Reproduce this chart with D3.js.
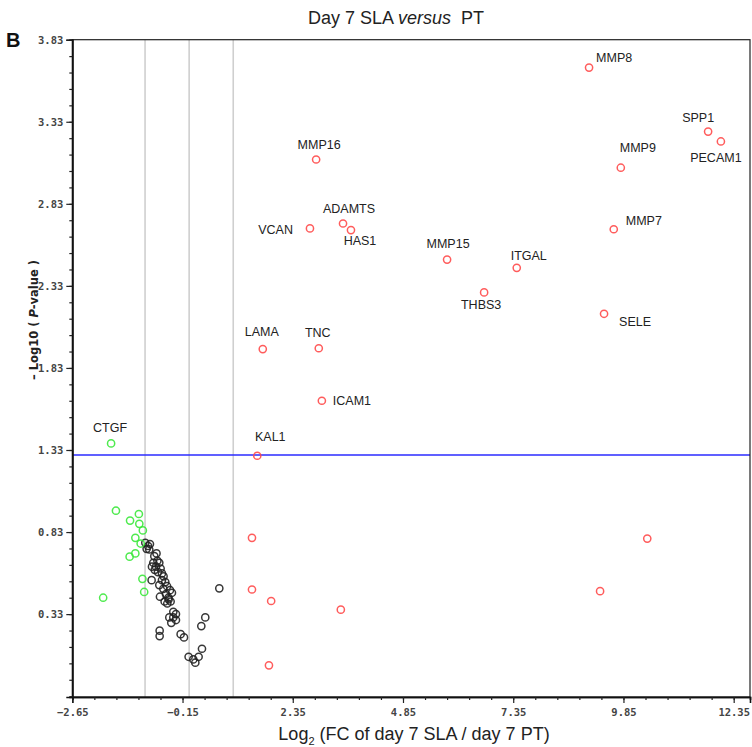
<!DOCTYPE html>
<html><head><meta charset="utf-8">
<script src="https://cdn.jsdelivr.net/npm/d3@7/dist/d3.min.js"></script>
<style>body{margin:0;background:#fff}svg{display:block}</style>
</head><body><svg id="chart" width="752" height="747"></svg>
<script>
// ---- data ----
const labeledGenes = ["MMP8","SPP1","PECAM1","MMP9","MMP16","ADAMTS","VCAN","HAS1","MMP7","MMP15","ITGAL","THBS3","SELE","LAMA","TNC","ICAM1","KAL1","CTGF"];
const labeledX = [9.07,11.77,12.06,9.79,2.88,3.49,2.74,3.67,9.63,5.85,7.43,6.69,9.41,1.67,2.94,3.01,1.545,-1.77];
const labeledY = [3.66,3.27,3.21,3.05,3.10,2.71,2.68,2.67,2.675,2.49,2.44,2.29,2.16,1.945,1.95,1.63,1.295,1.37];
const labeledGroup = ["up","up","up","up","up","up","up","up","up","up","up","up","up","up","up","up","up","down"];

const upX = [1.425,1.425,1.86,3.44,1.81,10.39,9.32];
const upY = [0.795,0.48,0.41,0.357,0.018,0.79,0.47];

const downX = [-1.66,-1.14,-1.34,-1.13,-1.05,-1.22,-1.10,-1.22,-1.35,-1.06,-1.02,-1.95];
const downY = [0.96,0.94,0.90,0.88,0.84,0.795,0.76,0.70,0.68,0.545,0.465,0.43];

const nsX = [-0.994,-0.889,-0.964,-0.904,-0.79,-0.72,-0.813,-0.677,-0.843,-0.752,-0.647,-0.707,-0.617,-0.851,-0.617,-0.541,-0.677,-0.586,-0.435,-0.39,-0.526,-0.662,-0.465,-0.556,-0.42,-0.495,-0.359,-0.299,-0.45,-0.359,-0.299,-0.405,-0.669,-0.669,-0.193,-0.117,0.366,0.276,0.684,0.291,0.215,-0.012,0.094,0.14,-0.74,-0.58,-0.50,-0.47,-0.93,-0.78];
const nsY = [0.765,0.757,0.728,0.724,0.683,0.655,0.643,0.643,0.619,0.619,0.608,0.586,0.578,0.537,0.537,0.525,0.507,0.484,0.476,0.46,0.452,0.436,0.42,0.407,0.407,0.395,0.344,0.33,0.31,0.31,0.294,0.277,0.229,0.196,0.208,0.188,0.31,0.257,0.487,0.119,0.07,0.07,0.054,0.034,0.70,0.56,0.50,0.43,0.745,0.60];

const xMajorTicks = [-2.65,-0.15,2.35,4.85,7.35,9.85,12.35];
const yMajorTicks = [0.33,0.83,1.33,1.83,2.33,2.83,3.33,3.83];
const fcLines = [-1,0,1];
const pThreshold = 1.30;

// ---- layout (label placement relative to point) ----
const labelPlace = {
  MMP8:[7,-6,"start"], SPP1:[-10,-10,"middle"], PECAM1:[-5,21,"middle"], MMP9:[-1,-16,"start"],
  MMP16:[3,-11,"middle"], ADAMTS:[6,-11,"middle"], VCAN:[-17,6,"end"], HAS1:[9,15,"middle"],
  MMP7:[12,-4,"start"], MMP15:[1,-12,"middle"], ITGAL:[12,-8,"middle"], THBS3:[-3,17,"middle"],
  SELE:[15,12,"start"], LAMA:[-1,-13,"middle"], TNC:[-1,-11,"middle"], ICAM1:[11,4,"start"],
  KAL1:[13,-15,"middle"], CTGF:[-1,-11,"middle"]
};

const svg = d3.select("#chart");
const L = 72.3, R = 750, T = 39.7, B = 697;
const x = d3.scaleLinear().domain([-2.65, 12.72]).range([L, R]);
const y = d3.scaleLinear().domain([-0.175, 3.83]).range([B, T]);

const colors = {up:"#ff4a4a", down:"#3be83b", ns:"#222"};

// grey vertical lines
svg.append("g").selectAll("line").data(fcLines).join("line")
  .attr("x1", d=>x(d)).attr("x2", d=>x(d)).attr("y1", T).attr("y2", B)
  .attr("stroke", "#cfcfcf").attr("stroke-width", 1.6);

// blue threshold
svg.append("line").attr("x1", L).attr("x2", R).attr("y1", y(pThreshold)).attr("y2", y(pThreshold))
  .attr("stroke", "#2b2bff").attr("stroke-width", 1.5);

// frame
svg.append("rect").attr("x", L).attr("y", T).attr("width", R-L).attr("height", B-T)
  .attr("fill", "none").attr("stroke", "#222").attr("stroke-width", 1.2);

// axes
const tickFont = "'DejaVu Sans Mono', monospace";
const xMinor = d3.range(-2.65, 12.70, 0.5);
const yMinor = d3.range(-0.17, 3.835, 0.1);

const xAxis = svg.append("g").attr("transform", `translate(0,${B})`)
  .call(d3.axisBottom(x).tickValues(xMajorTicks).tickSize(6).tickPadding(6)
    .tickFormat(d => d3.format(".2f")(d).replace("-", "\u2212")));
const xAxisMinor = svg.append("g").attr("transform", `translate(0,${B})`)
  .call(d3.axisBottom(x).tickValues(xMinor).tickSize(3).tickFormat(""));
const yAxis = svg.append("g").attr("transform", `translate(${L},0)`)
  .call(d3.axisLeft(y).tickValues(yMajorTicks).tickSize(6).tickPadding(3)
    .tickFormat(d3.format(".2f")));
const yAxisMinor = svg.append("g").attr("transform", `translate(${L},0)`)
  .call(d3.axisLeft(y).tickValues(yMinor).tickSize(3).tickFormat(""));
[xAxis, xAxisMinor, yAxis, yAxisMinor].forEach(g => {
  g.select(".domain").attr("stroke", "#111").attr("stroke-width", 1.6);
  g.selectAll(".tick line").attr("stroke", "#222").attr("stroke-width", 1.2);
  g.selectAll("text").attr("font-family", tickFont).attr("font-size", 10.5)
    .attr("font-weight", "bold").attr("fill", "#444");
});

// points
const pts = [];
nsX.forEach((v,i)=>pts.push({x:v, y:nsY[i], g:"ns"}));
downX.forEach((v,i)=>pts.push({x:v, y:downY[i], g:"down"}));
upX.forEach((v,i)=>pts.push({x:v, y:upY[i], g:"up"}));
labeledGenes.forEach((n,i)=>pts.push({x:labeledX[i], y:labeledY[i], g:labeledGroup[i], name:n}));

svg.append("g").selectAll("circle").data(pts).join("circle")
  .attr("cx", d=>x(d.x)).attr("cy", d=>y(d.y)).attr("r", 3.6)
  .attr("fill", "none").attr("stroke", d=>colors[d.g]).attr("stroke-width", 1.5)
  .attr("opacity", 0.9);

// labels
svg.append("g").selectAll("text").data(pts.filter(d=>d.name)).join("text")
  .attr("x", d=>x(d.x)+labelPlace[d.name][0]).attr("y", d=>y(d.y)+labelPlace[d.name][1])
  .attr("text-anchor", d=>labelPlace[d.name][2])
  .attr("font-family", "'Liberation Sans', Arial, sans-serif").attr("font-size", 12.5)
  .attr("fill", "#222").text(d=>d.name);

// title
const title = svg.append("text").attr("x", 396).attr("y", 24).attr("text-anchor", "middle")
  .attr("font-family", "'Liberation Sans', Arial, sans-serif").attr("font-size", 18).attr("fill", "#222");
title.append("tspan").text("Day 7 SLA ");
title.append("tspan").attr("font-style", "italic").text("versus");
title.append("tspan").text("\u00a0 PT");

// panel letter
svg.append("text").attr("x", 6).attr("y", 47).attr("font-family", "'Liberation Sans', Arial, sans-serif")
  .attr("font-size", 20).attr("font-weight", "bold").attr("fill", "#111").text("B");

// x label
const xl = svg.append("text").attr("x", 414).attr("y", 740).attr("text-anchor", "middle")
  .attr("font-family", "'Liberation Sans', Arial, sans-serif").attr("font-size", 18).attr("fill", "#222");
xl.append("tspan").text("Log");
xl.append("tspan").attr("font-size", 11).attr("dy", 5).text("2");
xl.append("tspan").attr("dy", -5).text(" (FC of day 7 SLA / day 7 PT)");

// y label
const yl = svg.append("text").attr("transform", "translate(38,320) rotate(-90)").attr("text-anchor", "middle")
  .attr("font-family", "'DejaVu Sans', sans-serif").attr("font-size", 11.5).attr("font-weight", "bold").attr("fill", "#222");
yl.append("tspan").text("\u2013 Log10 ( ");
yl.append("tspan").attr("font-style", "italic").text("P");
yl.append("tspan").text("-value )");
</script></body></html>
